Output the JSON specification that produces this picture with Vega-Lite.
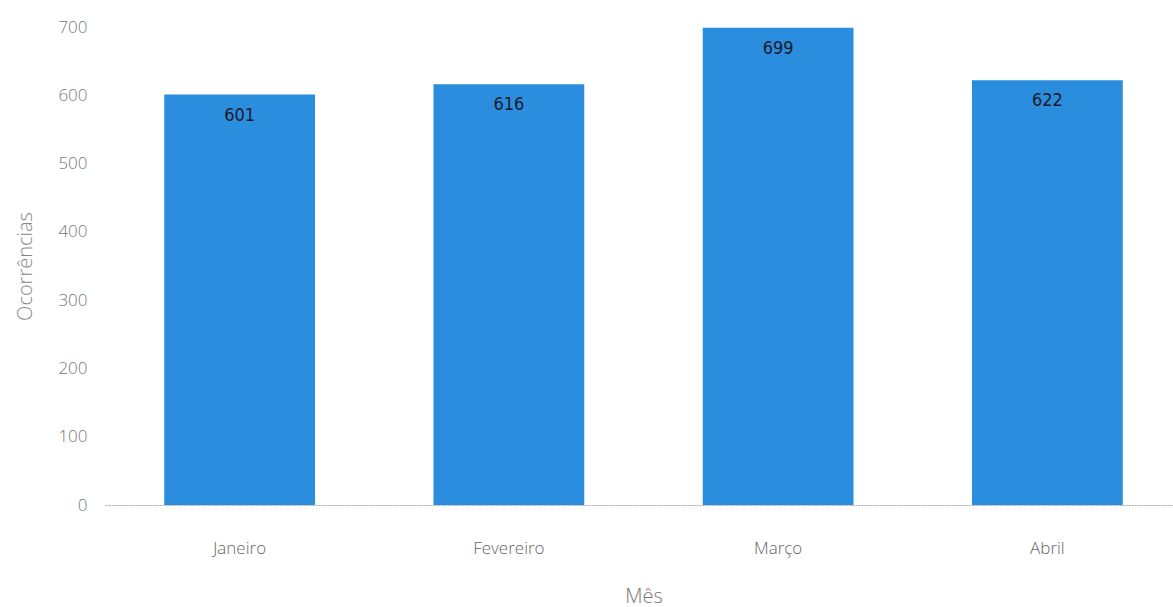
{
  "$schema": "https://vega.github.io/schema/vega-lite/v6.json",
  "autosize": {"type": "none"},
  "padding": {"left": 105, "top": 27, "right": 0, "bottom": 102},
  "width": 1077,
  "height": 478,
  "background": "white",
  "data": {"values": [
    {"mes": "Janeiro", "ocorrencias": 601},
    {"mes": "Fevereiro", "ocorrencias": 616},
    {"mes": "Março", "ocorrencias": 699},
    {"mes": "Abril", "ocorrencias": 622}
  ]},
  "config": {"view": {"stroke": null}, "font": "Open Sans"},
  "encoding": {
    "x": {"field": "mes", "type": "nominal", "sort": null,
      "scale": {"paddingInner": 0.44, "paddingOuter": 0.22},
      "axis": {"title": "Mês", "labelAngle": 0, "ticks": false, "domainColor": "#aaaaaa", "domainDash": [2, 1],
        "labelFont": "Open Sans", "labelFontSize": 17, "labelColor": "#666666", "labelFontWeight": 300, "labelPadding": 35,
        "titleFont": "Open Sans", "titleFontSize": 20, "titleFontWeight": 300, "titleColor": "#777777", "titlePadding": 30}},
    "y": {"field": "ocorrencias", "type": "quantitative",
      "scale": {"domain": [0, 700], "nice": false},
      "axis": {"title": "Ocorrências", "values": [0,100,200,300,400,500,600,700], "grid": false, "ticks": false, "domain": false,
        "labelFont": "Open Sans", "labelFontSize": 17, "labelColor": "#777777", "labelFontWeight": 300, "labelPadding": 18,
        "titleFont": "Open Sans", "titleFontSize": 20, "titleFontWeight": 300, "titleColor": "#888888", "titlePadding": 22}}
  },
  "layer": [
    {"mark": {"type": "bar", "color": "#2a8ddd"}},
    {"mark": {"type": "text", "baseline": "top", "dy": 12, "fontSize": 18, "color": "#1a1a2a", "font": "DejaVu Sans Condensed, Liberation Sans"},
      "encoding": {"text": {"field": "ocorrencias", "type": "quantitative"}}}
  ]
}
